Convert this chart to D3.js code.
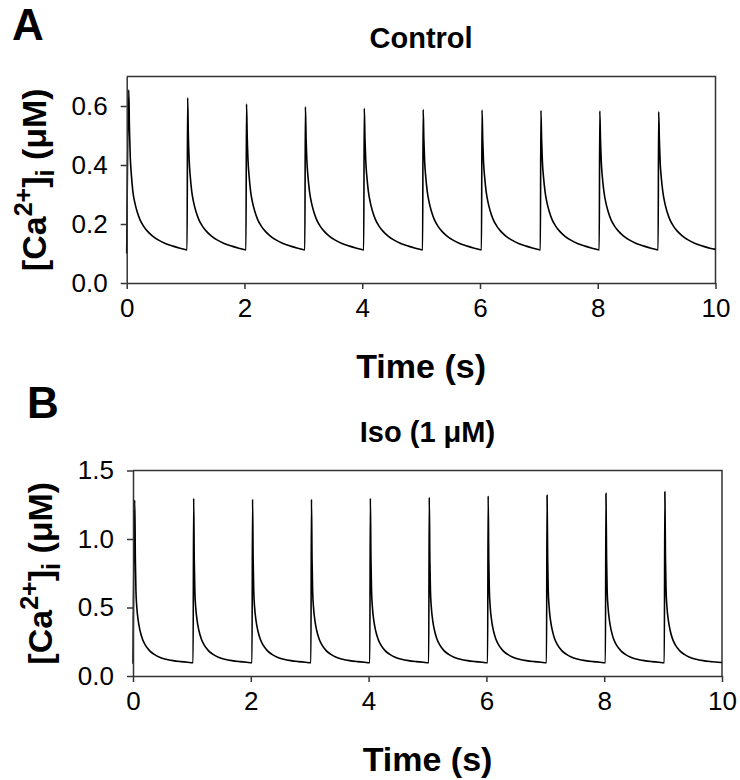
<!DOCTYPE html>
<html><head><meta charset="utf-8">
<script src="https://cdn.jsdelivr.net/npm/d3@7"></script>
<style>body{margin:0;background:#fff}svg{display:block}text{font-family:"Liberation Sans",Arial,Helvetica,sans-serif}</style>
</head><body><svg id="c" width="740" height="780"></svg>
<script>
// ---- Data ----
const controlTime = [
  0.000,0.035,0.047,0.060,0.080,0.105,0.135,0.175,0.225,0.285,0.355,0.435,0.535,0.655,0.785,0.905,
  1.025,1.035,1.047,1.060,1.080,1.105,1.135,1.175,1.225,1.285,1.355,1.435,1.535,1.655,1.785,1.905,
  2.025,2.035,2.047,2.060,2.080,2.105,2.135,2.175,2.225,2.285,2.355,2.435,2.535,2.655,2.785,2.905,
  3.025,3.035,3.047,3.060,3.080,3.105,3.135,3.175,3.225,3.285,3.355,3.435,3.535,3.655,3.785,3.905,
  4.025,4.035,4.047,4.060,4.080,4.105,4.135,4.175,4.225,4.285,4.355,4.435,4.535,4.655,4.785,4.905,
  5.025,5.035,5.047,5.060,5.080,5.105,5.135,5.175,5.225,5.285,5.355,5.435,5.535,5.655,5.785,5.905,
  6.025,6.035,6.047,6.060,6.080,6.105,6.135,6.175,6.225,6.285,6.355,6.435,6.535,6.655,6.785,6.905,
  7.025,7.035,7.047,7.060,7.080,7.105,7.135,7.175,7.225,7.285,7.355,7.435,7.535,7.655,7.785,7.905,
  8.025,8.035,8.047,8.060,8.080,8.105,8.135,8.175,8.225,8.285,8.355,8.435,8.535,8.655,8.785,8.905,
  9.025,9.035,9.047,9.060,9.080,9.105,9.135,9.175,9.225,9.285,9.355,9.435,9.535,9.655,9.785,9.905,
  10.000
];
const controlCa = [
  0.100,0.655,0.520,0.430,0.365,0.310,0.275,0.243,0.215,0.193,0.175,0.160,0.146,0.134,0.125,0.118,
  0.112,0.628,0.500,0.420,0.360,0.310,0.275,0.243,0.215,0.193,0.175,0.160,0.146,0.134,0.125,0.118,
  0.112,0.607,0.495,0.418,0.360,0.310,0.275,0.243,0.215,0.193,0.175,0.160,0.146,0.134,0.125,0.118,
  0.112,0.597,0.490,0.415,0.358,0.310,0.275,0.243,0.215,0.193,0.175,0.160,0.146,0.134,0.125,0.118,
  0.112,0.592,0.488,0.414,0.358,0.310,0.275,0.243,0.215,0.193,0.175,0.160,0.146,0.134,0.125,0.118,
  0.112,0.588,0.486,0.413,0.357,0.310,0.275,0.243,0.215,0.193,0.175,0.160,0.146,0.134,0.125,0.118,
  0.112,0.586,0.485,0.412,0.357,0.310,0.275,0.243,0.215,0.193,0.175,0.160,0.146,0.134,0.125,0.118,
  0.112,0.585,0.485,0.412,0.357,0.310,0.275,0.243,0.215,0.193,0.175,0.160,0.146,0.134,0.125,0.118,
  0.112,0.583,0.484,0.411,0.356,0.310,0.275,0.243,0.215,0.193,0.175,0.160,0.146,0.134,0.125,0.118,
  0.112,0.580,0.483,0.410,0.356,0.310,0.275,0.243,0.215,0.193,0.175,0.160,0.146,0.134,0.125,0.118,
  0.114
];
const isoTime = [
  0.000,0.030,0.040,0.050,0.065,0.090,0.120,0.160,0.210,0.280,0.360,0.450,0.560,0.680,0.810,0.930,
  1.020,1.030,1.040,1.050,1.065,1.090,1.120,1.160,1.210,1.280,1.360,1.450,1.560,1.680,1.810,1.930,
  2.020,2.030,2.040,2.050,2.065,2.090,2.120,2.160,2.210,2.280,2.360,2.450,2.560,2.680,2.810,2.930,
  3.020,3.030,3.040,3.050,3.065,3.090,3.120,3.160,3.210,3.280,3.360,3.450,3.560,3.680,3.810,3.930,
  4.020,4.030,4.040,4.050,4.065,4.090,4.120,4.160,4.210,4.280,4.360,4.450,4.560,4.680,4.810,4.930,
  5.020,5.030,5.040,5.050,5.065,5.090,5.120,5.160,5.210,5.280,5.360,5.450,5.560,5.680,5.810,5.930,
  6.020,6.030,6.040,6.050,6.065,6.090,6.120,6.160,6.210,6.280,6.360,6.450,6.560,6.680,6.810,6.930,
  7.020,7.030,7.040,7.050,7.065,7.090,7.120,7.160,7.210,7.280,7.360,7.450,7.560,7.680,7.810,7.930,
  8.020,8.030,8.040,8.050,8.065,8.090,8.120,8.160,8.210,8.280,8.360,8.450,8.560,8.680,8.810,8.930,
  9.020,9.030,9.040,9.050,9.065,9.090,9.120,9.160,9.210,9.280,9.360,9.450,9.560,9.680,9.810,9.930,
  10.000
];
const isoCa = [
  0.090,1.285,0.850,0.620,0.500,0.400,0.330,0.270,0.225,0.185,0.158,0.137,0.122,0.112,0.105,0.100,
  0.097,1.297,0.850,0.620,0.500,0.400,0.330,0.270,0.225,0.185,0.158,0.137,0.122,0.112,0.105,0.100,
  0.097,1.290,0.850,0.620,0.500,0.400,0.330,0.270,0.225,0.185,0.158,0.137,0.122,0.112,0.105,0.100,
  0.097,1.290,0.850,0.620,0.500,0.400,0.330,0.270,0.225,0.185,0.158,0.137,0.122,0.112,0.105,0.100,
  0.097,1.297,0.855,0.622,0.500,0.400,0.330,0.270,0.225,0.185,0.158,0.137,0.122,0.112,0.105,0.100,
  0.097,1.304,0.858,0.624,0.502,0.400,0.330,0.270,0.225,0.185,0.158,0.137,0.122,0.112,0.105,0.100,
  0.097,1.314,0.862,0.626,0.503,0.401,0.330,0.270,0.225,0.185,0.158,0.137,0.122,0.112,0.105,0.100,
  0.097,1.320,0.865,0.628,0.504,0.402,0.331,0.270,0.225,0.185,0.158,0.137,0.122,0.112,0.105,0.100,
  0.097,1.333,0.870,0.630,0.505,0.403,0.331,0.270,0.225,0.185,0.158,0.137,0.122,0.112,0.105,0.100,
  0.097,1.345,0.875,0.633,0.506,0.404,0.332,0.271,0.225,0.185,0.158,0.137,0.122,0.112,0.105,0.100,
  0.099
];
const xTicks = [0, 2, 4, 6, 8, 10];
const controlYTicks = [0.0, 0.2, 0.4, 0.6];
const isoYTicks = [0.0, 0.5, 1.0, 1.5];
const panelLetters = ["A", "B"];
const panelTitles = ["Control", "Iso (1 \u03BCM)"];
const xTitle = "Time (s)";

// ---- Layout ----
const svg = d3.select("#c");
const AXIS = "#333";
const panels = [
  {letter: panelLetters[0], title: panelTitles[0], time: controlTime, ca: controlCa, yTicks: controlYTicks,
   yMax: 0.7, left: 126.7, right: 715.5, top: 76.5, bottom: 283, letterX: 12, letterY: 40, ylabX: 46},
  {letter: panelLetters[1], title: panelTitles[1], time: isoTime, ca: isoCa, yTicks: isoYTicks,
   yMax: 1.5, left: 133, right: 722, top: 470.5, bottom: 676, letterX: 27, letterY: 418, ylabX: 52}
];

panels.forEach(p => {
  const x = d3.scaleLinear().domain([0, 10]).range([p.left, p.right]);
  const y = d3.scaleLinear().domain([0, p.yMax]).range([p.bottom, p.top]);
  const g = svg.append("g");

  // frame (top + right)
  g.append("path")
    .attr("d", `M${x(0)},${y(p.yMax)}H${x(10)}V${y(0)}`)
    .attr("fill", "none").attr("stroke", AXIS).attr("stroke-width", 1.5);

  // data trace
  const pts = p.time.map((t, i) => [t, p.ca[i]]);
  g.append("path").datum(pts)
    .attr("fill", "none").attr("stroke", "#000").attr("stroke-width", 1.6)
    .attr("stroke-linejoin", "round")
    .attr("d", d3.line().x(d => x(d[0])).y(d => y(d[1])).curve(d3.curveMonotoneX));

  // axes
  const xa = g.append("g").attr("transform", `translate(0,${y(0)})`)
    .call(d3.axisBottom(x).tickValues(xTicks).tickFormat(d3.format("d")).tickSize(6).tickSizeOuter(0).tickPadding(10));
  const ya = g.append("g").attr("transform", `translate(${x(0)},0)`)
    .call(d3.axisLeft(y).tickValues(p.yTicks).tickFormat(d3.format(".1f")).tickSize(6).tickSizeOuter(0).tickPadding(13));
  [xa, ya].forEach(a => {
    a.attr("font-size", null).attr("font-family", null);
    a.select(".domain").attr("stroke", AXIS).attr("stroke-width", 1.5);
    a.selectAll(".tick line").attr("stroke", AXIS).attr("stroke-width", 1.5);
    a.selectAll(".tick text").attr("fill", "#000").style("font-size", "26px")
      .style("font-family", '"Liberation Sans", Arial, sans-serif');
  });

  // panel letter
  g.append("text").attr("x", p.letterX).attr("y", p.letterY)
    .style("font-size", "44px").style("font-weight", "bold").text(p.letter);

  // title
  g.append("text").attr("x", (p.left + p.right) / 2).attr("y", p.top - 29)
    .attr("text-anchor", "middle").style("font-size", "29px").style("font-weight", "bold").text(p.title);

  // x title
  g.append("text").attr("x", (p.left + p.right) / 2).attr("y", p.bottom + 95)
    .attr("text-anchor", "middle").style("font-size", "34px").style("font-weight", "bold").text(xTitle);

  // y title
  const yt = g.append("text")
    .attr("transform", `translate(${p.ylabX},${(p.top + p.bottom) / 2}) rotate(-90)`)
    .attr("text-anchor", "middle").style("font-size", "34px").style("font-weight", "bold");
  yt.append("tspan").text("[Ca");
  yt.append("tspan").attr("dy", -14).style("font-size", "25px").text("2+");
  yt.append("tspan").attr("dy", 14).text("]");
  yt.append("tspan").attr("dy", 8).style("font-size", "25px").text("i");
  yt.append("tspan").attr("dy", -8).text(" (\u03BCM)");
});
</script>
</body></html>
